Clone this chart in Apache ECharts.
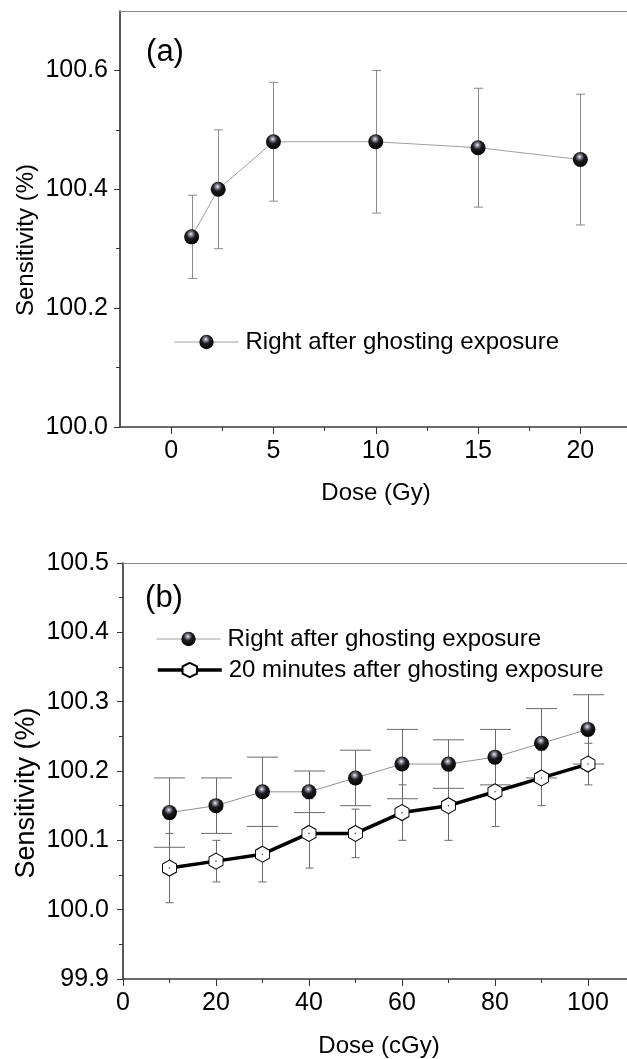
<!DOCTYPE html>
<html>
<head>
<meta charset="utf-8">
<script src="https://cdn.jsdelivr.net/npm/echarts@6/dist/echarts.min.js"></script>
<style>
  html, body { margin: 0; padding: 0; background: #fff; }
  #chart { width: 627px; height: 1059px; }
</style>
</head>
<body>
<div id="chart"></div>
<script>
const FONT = '"Liberation Sans", Arial, Helvetica, sans-serif';

// Panel (a): dose in Gy
const doseA = [1, 2.3, 5, 10, 15, 20];
const sensA = [100.32, 100.40, 100.48, 100.48, 100.47, 100.45];
const errA  = [0.07, 0.10, 0.10, 0.12, 0.10, 0.11];
const xTicksA = [0, 5, 10, 15, 20];
const xMinorA = [2.5, 7.5, 12.5, 17.5];
const yTicksA = [100.0, 100.2, 100.4, 100.6];
const yMinorA = [100.1, 100.3, 100.5];

// Panel (b): dose in cGy
const doseB = [10, 20, 30, 40, 50, 60, 70, 80, 90, 100];
const sensB1 = [100.14, 100.15, 100.17, 100.17, 100.19, 100.21, 100.21, 100.22, 100.24, 100.26];
const errB1  = [0.05, 0.04, 0.05, 0.03, 0.04, 0.05, 0.035, 0.04, 0.05, 0.05];
const sensB2 = [100.06, 100.07, 100.08, 100.11, 100.11, 100.14, 100.15, 100.17, 100.19, 100.21];
const errB2  = [0.05, 0.03, 0.04, 0.05, 0.035, 0.04, 0.05, 0.05, 0.04, 0.03];
const xTicksB = [0, 20, 40, 60, 80, 100];
const xMinorB = [10, 30, 50, 70, 90];
const yTicksB = [99.9, 100.0, 100.1, 100.2, 100.3, 100.4, 100.5];
const yMinorB = [99.95, 100.05, 100.15, 100.25, 100.35, 100.45];

const NAME_NOW = 'Right after ghosting exposure';
const NAME_20 = '20 minutes after ghosting exposure';

const pairs = (xs, ys) => xs.map((x, i) => [x, ys[i]]);
const bars = (xs, ys, es) => xs.map((x, i) => [x, ys[i] - es[i], ys[i] + es[i]]);

// glossy black ball
const ballFill = {
  type: 'radial', x: 0.45, y: 0.32, r: 0.72,
  colorStops: [
    { offset: 0, color: '#f4f4ff' },
    { offset: 0.14, color: '#9a9aaa' },
    { offset: 0.42, color: '#1c1c20' },
    { offset: 1, color: '#000000' }
  ]
};
const HEX = 'path://M0,-1L0.866,-0.5L0.866,0.5L0,1L-0.866,0.5L-0.866,-0.5Z';

function errorBars(capWidth, color) {
  return function (params, api) {
    const x = api.value(0);
    const lo = api.coord([x, api.value(1)]);
    const hi = api.coord([x, api.value(2)]);
    const h = capWidth / 2;
    const cx = Math.round(lo[0]) + 0.5;
    const style = { stroke: color, lineWidth: 1 };
    return {
      type: 'group',
      children: [
        { type: 'line', shape: { x1: cx, y1: hi[1], x2: cx, y2: lo[1] }, style },
        { type: 'line', shape: { x1: cx - h, y1: hi[1], x2: cx + h, y2: hi[1] }, style },
        { type: 'line', shape: { x1: cx - h, y1: lo[1], x2: cx + h, y2: lo[1] }, style }
      ]
    };
  };
}

const tickLabel = { color: '#000', fontFamily: FONT, fontSize: 25 };

function mainX(grid, min, max, ticks) {
  return {
    type: 'value', gridIndex: grid, position: 'bottom', min, max,
    axisLine: { show: true, onZero: false, lineStyle: { color: '#3a3a3a', width: 1.6 } },
    axisTick: { show: true, inside: false, length: 7, customValues: ticks, lineStyle: { color: '#333', width: 1 } },
    axisLabel: Object.assign({ show: true, margin: 12, customValues: ticks }, tickLabel),
    splitLine: { show: false }
  };
}
function minorX(grid, min, max, ticks) {
  return {
    type: 'value', gridIndex: grid, position: 'bottom', min, max,
    axisLine: { show: false, onZero: false },
    axisTick: { show: true, inside: false, length: 4, customValues: ticks, lineStyle: { color: '#333', width: 1 } },
    axisLabel: { show: false },
    splitLine: { show: false }
  };
}
function frameX(grid, min, max) {
  return {
    type: 'value', gridIndex: grid, position: 'top', min, max,
    axisLine: { show: true, onZero: false, lineStyle: { color: '#888', width: 1 } },
    axisTick: { show: false }, axisLabel: { show: false }, splitLine: { show: false }
  };
}
function mainY(grid, min, max, ticks, margin) {
  return {
    type: 'value', gridIndex: grid, position: 'left', min, max,
    axisLine: { show: true, onZero: false, lineStyle: { color: '#222', width: 1.5 } },
    axisTick: { show: true, inside: false, length: 6, customValues: ticks, lineStyle: { color: '#333', width: 1 } },
    axisLabel: Object.assign({ show: true, margin, customValues: ticks, formatter: v => Number(v).toFixed(1) }, tickLabel),
    splitLine: { show: false }
  };
}
function minorY(grid, min, max, ticks) {
  return {
    type: 'value', gridIndex: grid, position: 'left', min, max,
    axisLine: { show: false, onZero: false },
    axisTick: { show: true, inside: false, length: 4, customValues: ticks, lineStyle: { color: '#333', width: 1 } },
    axisLabel: { show: false },
    splitLine: { show: false }
  };
}

const X_A = [-2.5, 22.28];
const Y_A = [100.0, 100.7];
const X_B = [0, 108.4];
const Y_B = [99.9, 100.5];

const legendText = { color: '#000', fontFamily: FONT, fontSize: 24, padding: [0, 0, 0, 2] };
function legendAt(name, left, top, lineWidth) {
  return {
    data: [name], left, top, orient: 'vertical', padding: 0,
    itemWidth: 64, itemHeight: 18, selectedMode: false,
    lineStyle: { width: lineWidth },
    textStyle: legendText
  };
}

function titleText(text, x, y, size, rotate) {
  return {
    type: 'text', x, y, rotation: rotate ? Math.PI / 2 : 0,
    style: { text, fill: '#000', font: size + 'px ' + FONT, align: 'center', verticalAlign: 'middle' }
  };
}

const option = {
  backgroundColor: '#fff',
  animation: false,
  grid: [
    { left: 120, top: 11, right: 0, height: 416 },
    { left: 123, top: 563, right: 0, height: 416 }
  ],
  xAxis: [
    mainX(0, X_A[0], X_A[1], xTicksA),
    minorX(0, X_A[0], X_A[1], xMinorA),
    frameX(0, X_A[0], X_A[1]),
    mainX(1, X_B[0], X_B[1], xTicksB),
    minorX(1, X_B[0], X_B[1], xMinorB),
    frameX(1, X_B[0], X_B[1])
  ],
  yAxis: [
    mainY(0, Y_A[0], Y_A[1], yTicksA, 12),
    minorY(0, Y_A[0], Y_A[1], yMinorA),
    mainY(1, Y_B[0], Y_B[1], yTicksB, 14),
    minorY(1, Y_B[0], Y_B[1], yMinorB)
  ],
  legend: [
    legendAt(NAME_NOW, 174, 330, 1),
    legendAt(NAME_NOW, 156, 627, 1),
    legendAt(NAME_20, 156, 658, 3.5)
  ],
  graphic: [
    titleText('(a)', 165, 52, 31, false),
    titleText('(b)', 164, 598, 31, false),
    titleText('Dose (Gy)', 376, 493, 24, false),
    titleText('Dose (cGy)', 379, 1046, 24, false),
    titleText('Sensitivity (%)', 26, 240, 24, true),
    titleText('Sensitivity (%)', 27, 793, 27, true)
  ],
  series: [
    // (a)
    {
      type: 'custom', name: 'err a', xAxisIndex: 0, yAxisIndex: 0, z: 1,
      data: bars(doseA, sensA, errA), encode: { x: 0, y: [1, 2] },
      renderItem: errorBars(9, '#8a8a8a'), silent: true
    },
    {
      type: 'line', name: NAME_NOW, xAxisIndex: 0, yAxisIndex: 0, z: 3,
      data: pairs(doseA, sensA),
      lineStyle: { color: '#a0a0a0', width: 1 },
      symbol: 'circle', symbolSize: 15,
      itemStyle: { color: ballFill, borderWidth: 0 }
    },
    // (b) error bars
    {
      type: 'custom', name: 'err b1', xAxisIndex: 3, yAxisIndex: 2, z: 1,
      data: bars(doseB, sensB1, errB1), encode: { x: 0, y: [1, 2] },
      renderItem: errorBars(31, '#6a6a6a'), silent: true
    },
    {
      type: 'custom', name: 'err b2', xAxisIndex: 3, yAxisIndex: 2, z: 1,
      data: bars(doseB, sensB2, errB2), encode: { x: 0, y: [1, 2] },
      renderItem: errorBars(8, '#6a6a6a'), silent: true
    },
    {
      type: 'line', name: NAME_NOW, xAxisIndex: 3, yAxisIndex: 2, z: 3,
      data: pairs(doseB, sensB1),
      lineStyle: { color: '#909090', width: 1 },
      symbol: 'circle', symbolSize: 15,
      itemStyle: { color: ballFill, borderWidth: 0 }
    },
    {
      type: 'line', name: NAME_20, xAxisIndex: 3, yAxisIndex: 2, z: 3,
      data: pairs(doseB, sensB2),
      lineStyle: { color: '#000', width: 3.5 },
      symbol: HEX, symbolSize: [14, 16], symbolKeepAspect: false,
      itemStyle: { color: '#fff', borderColor: '#000', borderWidth: 1 }
    },
    {
      // centre dot of the hexagon markers
      type: 'scatter', name: 'hex centre', xAxisIndex: 3, yAxisIndex: 2, z: 4,
      data: pairs(doseB, sensB2), symbol: 'circle', symbolSize: 1.6,
      itemStyle: { color: '#222' }, silent: true
    }
  ]
};

const chart = echarts.init(document.getElementById('chart'), null, { renderer: 'canvas' });
chart.setOption(option);
</script>
</body>
</html>
